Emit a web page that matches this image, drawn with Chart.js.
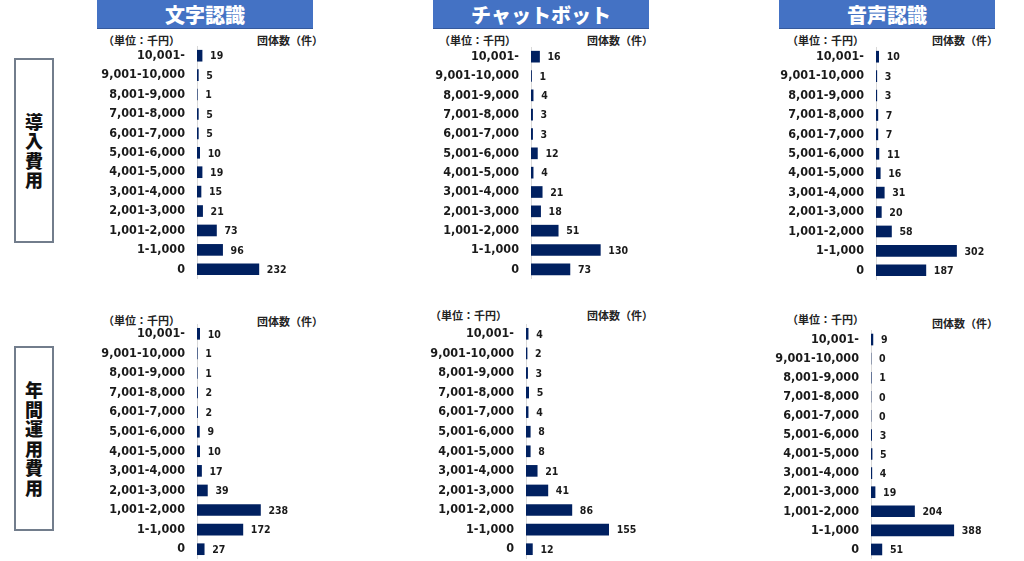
<!DOCTYPE html>
<html lang="ja">
<head>
<meta charset="utf-8">
<title>AI導入費用・年間運用費用</title>
<script src="https://cdn.jsdelivr.net/npm/chart.js@4/dist/chart.umd.min.js"></script>
<style>
  html, body { margin: 0; padding: 0; background: #ffffff; }
  #stage { position: relative; width: 1024px; height: 561px; overflow: hidden; font-family: "Noto Sans CJK JP", sans-serif; }
  .head {
    position: absolute; top: 0; height: 29px; width: 216px;
    background: #4472c4; color: #ffffff; font-weight: 900; font-size: 20px;
    line-height: 29px; text-align: center; border-bottom: 1px solid #35599c; box-sizing: border-box;
  }
  .side {
    position: absolute; left: 14px; width: 40px; box-sizing: border-box;
    border: 2px solid #727d8c; display: flex; align-items: center; justify-content: center;
    font-weight: 900; font-size: 18px; line-height: 19.5px; color: #111111; text-align: center;
  }
  .note { position: absolute; font-size: 11px; font-weight: bold; color: #222222; line-height: 14px; white-space: nowrap; }
  canvas { position: absolute; }
</style>
</head>
<body>
<div id="stage">
  <div class="head" style="left:97px">文字認識</div>
  <div class="head" style="left:433px">チャットボット</div>
  <div class="head" style="left:779px">音声認識</div>

  <div class="side" style="top:58px;height:185px">導<br>入<br>費<br>用</div>
  <div class="side" style="top:346px;height:185px">年<br>間<br>運<br>用<br>費<br>用</div>

  <div class="note" style="left:103px;top:33px">（単位：千円）</div>
  <div class="note" style="left:257px;top:33px">団体数（件）</div>
  <div class="note" style="left:439px;top:33px">（単位：千円）</div>
  <div class="note" style="left:587px;top:33px">団体数（件）</div>
  <div class="note" style="left:787px;top:33px">（単位：千円）</div>
  <div class="note" style="left:932px;top:33px">団体数（件）</div>

  <div class="note" style="left:103px;top:313px">（単位：千円）</div>
  <div class="note" style="left:257px;top:314px">団体数（件）</div>
  <div class="note" style="left:430px;top:308px">（単位：千円）</div>
  <div class="note" style="left:587px;top:308px">団体数（件）</div>
  <div class="note" style="left:787px;top:312px">（単位：千円）</div>
  <div class="note" style="left:932px;top:316px">団体数（件）</div>

  <canvas id="c-init-ocr" width="270" height="233"></canvas>
  <canvas id="c-init-bot" width="270" height="232"></canvas>
  <canvas id="c-init-voice" width="270" height="233"></canvas>
  <canvas id="c-run-ocr" width="270" height="235"></canvas>
  <canvas id="c-run-bot" width="270" height="235"></canvas>
  <canvas id="c-run-voice" width="270" height="229"></canvas>
</div>

<script>
// 費用帯（単位：千円）
const costBands = [
  '10,001-', '9,001-10,000', '8,001-9,000', '7,001-8,000', '6,001-7,000', '5,001-6,000',
  '4,001-5,000', '3,001-4,000', '2,001-3,000', '1,001-2,000', '1-1,000', '0'
];

// 導入費用の団体数（件）
const initOcr   = [19, 5, 1, 5, 5, 10, 19, 15, 21, 73, 96, 232];
const initBot   = [16, 1, 4, 3, 3, 12, 4, 21, 18, 51, 130, 73];
const initVoice = [10, 3, 3, 7, 7, 11, 16, 31, 20, 58, 302, 187];

// 年間運用費用の団体数（件）
const runOcr   = [10, 1, 1, 2, 2, 9, 10, 17, 39, 238, 172, 27];
const runBot   = [4, 2, 3, 5, 4, 8, 8, 21, 41, 86, 155, 12];
const runVoice = [9, 0, 1, 0, 0, 3, 5, 4, 19, 204, 388, 51];

const AXIS_W = 110;   // 目盛ラベル領域の幅
const tickFont = { family: "'DejaVu Sans Condensed', 'DejaVu Sans', sans-serif", weight: 'bold', size: 12.5 };
const valueFont = "bold 10.5px 'DejaVu Sans Condensed', 'DejaVu Sans', sans-serif";

// 棒の右端に件数を書くプラグイン
const valueLabels = {
  id: 'valueLabels',
  afterDatasetsDraw(chart) {
    const ctx = chart.ctx;
    const ds = chart.data.datasets[0];
    ctx.save();
    ctx.font = valueFont;
    ctx.fillStyle = '#1a1a1a';
    ctx.textAlign = 'left';
    ctx.textBaseline = 'middle';
    chart.getDatasetMeta(0).data.forEach((bar, i) => {
      ctx.fillText(String(ds.data[i]), bar.x + 8, bar.y + 1);
    });
    ctx.restore();
  }
};

function drawPanel(id, values, axisX, top, xMax) {
  const canvas = document.getElementById(id);
  canvas.style.left = (axisX - AXIS_W) + 'px';
  canvas.style.top = top + 'px';

  new Chart(canvas, {
    type: 'bar',
    data: {
      labels: costBands,
      datasets: [{
        data: values,
        backgroundColor: '#002060',
        borderWidth: 0,
        barThickness: 11
      }]
    },
    options: {
      indexAxis: 'y',
      responsive: false,
      animation: false,
      layout: { padding: 0 },
      plugins: { legend: { display: false }, tooltip: { enabled: false } },
      scales: {
        x: { display: false, min: 0, max: xMax },
        y: {
          // 目盛ラベル幅を固定し、上下の余白をなくして行間を合わせる
          afterFit(scale) {
            scale.width = AXIS_W;
            scale.paddingTop = 0;
            scale.paddingBottom = 0;
          },
          grid: { display: false, drawTicks: false },
          border: { display: true, color: '#d9d9d9', width: 1 },
          ticks: { padding: 12, color: '#1a1a1a', font: tickFont, autoSkip: false }
        }
      }
    },
    plugins: [valueLabels]
  });
}

drawPanel('c-init-ocr',   initOcr,   197, 46.3, 600);
drawPanel('c-init-bot',   initBot,   531, 47.3, 300);
drawPanel('c-init-voice', initVoice, 876, 46.8, 600);
drawPanel('c-run-ocr',    runOcr,    197, 323.7, 600);
drawPanel('c-run-bot',    runBot,    526, 324.2, 300);
drawPanel('c-run-voice',  runVoice,  871, 329.5, 750);
</script>
</body>
</html>
